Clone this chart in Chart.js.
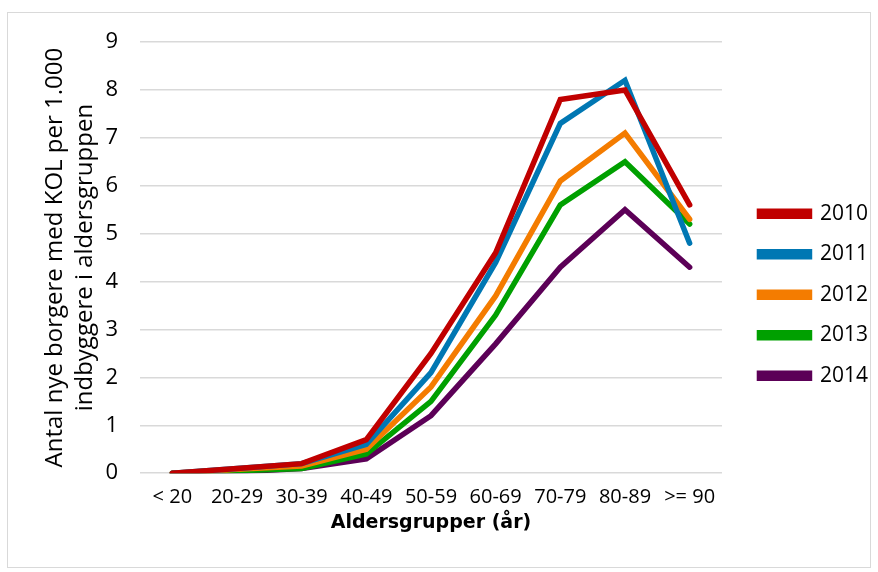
<!DOCTYPE html>
<html>
<head>
<meta charset="utf-8">
<script src="https://cdn.jsdelivr.net/npm/chart.js@4/dist/chart.umd.min.js"></script>
<style>
  html, body { margin: 0; padding: 0; background: #fff; }
  #frame { position: absolute; left: 7px; top: 12px; width: 864px; height: 556px;
           border: 1px solid #d9d9d9; box-sizing: border-box; }
  canvas { position: absolute; left: 0; top: 0; display: block; }
</style>
</head>
<body>
<div id="frame"></div>
<canvas id="kolChart" width="878" height="572"></canvas>
<script>
const ageGroups = ['< 20', '20-29', '30-39', '40-49', '50-59', '60-69', '70-79', '80-89', '>= 90'];
const years = ['2010', '2011', '2012', '2013', '2014'];
const rate2010 = [0, 0.1, 0.2, 0.7, 2.5, 4.6, 7.8, 8.0, 5.6];
const rate2011 = [0, 0.1, 0.2, 0.6, 2.1, 4.4, 7.3, 8.2, 4.8];
const rate2012 = [0, 0.08, 0.15, 0.5, 1.8, 3.7, 6.1, 7.1, 5.3];
const rate2013 = [0, 0.05, 0.1, 0.4, 1.5, 3.3, 5.6, 6.5, 5.2];
const rate2014 = [0, 0.03, 0.1, 0.3, 1.2, 2.7, 4.3, 5.5, 4.3];
const lineColors = ['#c00000', '#0077b3', '#f47c00', '#00a000', '#5c0057'];

const font = 'Open Sans';
const series = [rate2010, rate2011, rate2012, rate2013, rate2014];

new Chart(document.getElementById('kolChart').getContext('2d'), {
    type: 'line',
    data: {
        labels: ageGroups,
        datasets: series.map((values, i) => ({
            label: years[i],
            data: values,
            borderColor: lineColors[i],
            backgroundColor: lineColors[i],
            borderWidth: 5.5,
            borderCapStyle: 'round',
            pointRadius: 0,
            tension: 0
        }))
    },
    options: {
        responsive: false,
        animation: false,
        layout: { padding: { left: 40, right: 0, top: 42, bottom: 34 } },
        plugins: {
            legend: {
                position: 'right',
                // blank title just pushes the items a bit lower
                title: { display: true, text: ' ', font: { size: 8 }, padding: 0 },
                labels: {
                    color: '#000',
                    font: { family: font, size: 21 },
                    boxWidth: 50,
                    boxHeight: 5,
                    padding: 19.5
                }
            },
            tooltip: { enabled: false }
        },
        scales: {
            x: {
                offset: true,
                grid: { display: false },
                border: { display: false },
                ticks: { color: '#000', font: { family: font, size: 20 }, padding: 4 },
                title: {
                    display: true,
                    text: 'Aldersgrupper (år)',
                    color: '#000',
                    font: { family: 'DejaVu Sans', size: 19, weight: 'bold' },
                    padding: { top: -2 }
                }
            },
            y: {
                min: 0,
                max: 9,
                grid: { color: '#d9d9d9', lineWidth: 1.5, drawTicks: false },
                border: { display: false },
                ticks: { stepSize: 1, color: '#000', font: { family: font, size: 22 }, padding: 22 },
                title: {
                    display: true,
                    text: ['Antal nye borgere med KOL per 1.000', 'indbyggere i aldersgruppen'],
                    color: '#000',
                    font: { family: font, size: 24, lineHeight: 1.25 },
                    padding: 0
                },
                afterFit(scale) {
                    scale.width = 100;
                    scale.paddingTop = 0;
                    scale.paddingBottom = 0;
                }
            },
            // empty axis on the right, keeps a gap between the plot and the legend
            gap: {
                axis: 'y',
                position: 'right',
                grid: { display: false },
                border: { display: false },
                ticks: { display: false },
                afterFit(scale) {
                    scale.width = 18;
                    scale.paddingTop = 0;
                    scale.paddingBottom = 0;
                }
            }
        }
    }
});
</script>
</body>
</html>
